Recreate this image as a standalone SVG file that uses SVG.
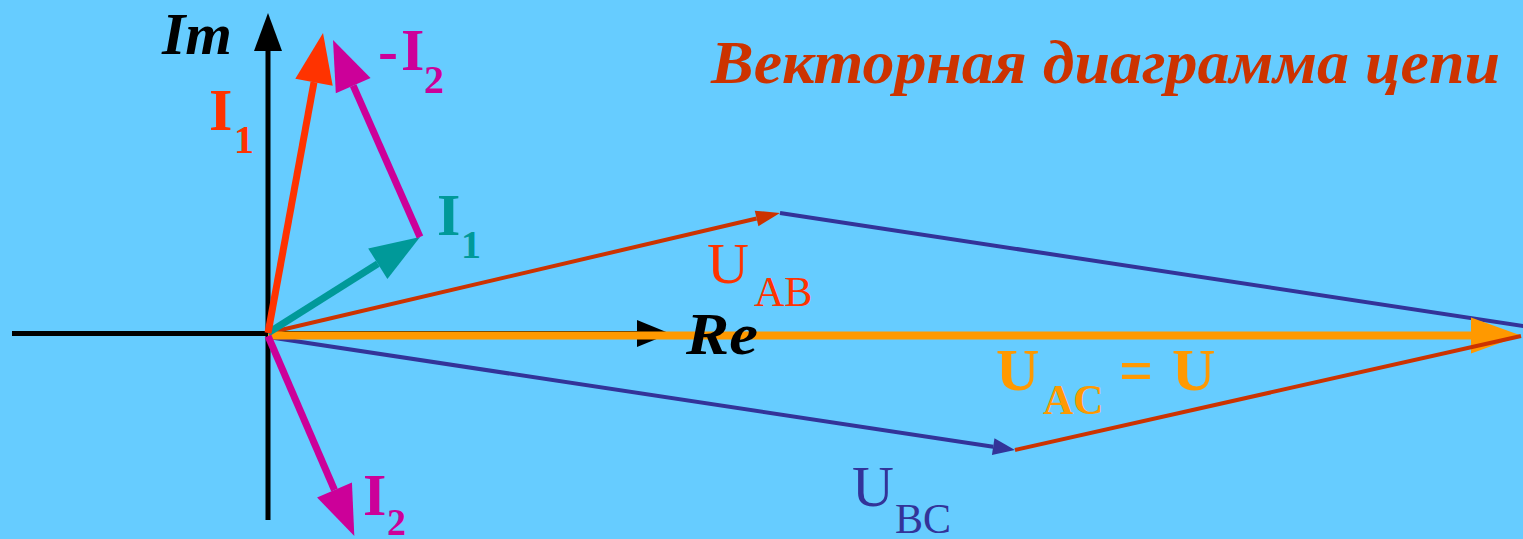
<svg xmlns="http://www.w3.org/2000/svg" width="1523" height="539" viewBox="0 0 1523 539">
<style>
.t{font-family:"Liberation Serif","Times New Roman",serif}
.b{font-weight:bold}
.i{font-style:italic}
.ln{fill:none;stroke-linecap:butt}
</style>
<defs>
<marker id="aBlkV" markerUnits="userSpaceOnUse" markerWidth="40" markerHeight="30" refX="0" refY="14" orient="auto" overflow="visible"><path d="M0,0 L38,14 L0,28 Z" fill="#000"/></marker>
<marker id="aBlkH" markerUnits="userSpaceOnUse" markerWidth="34" markerHeight="28" refX="0" refY="13.5" orient="auto" overflow="visible"><path d="M0,0 L33,13.5 L0,27 Z" fill="#000"/></marker>
<marker id="aRed" markerUnits="userSpaceOnUse" markerWidth="50" markerHeight="38" refX="0" refY="19" orient="auto" overflow="visible"><path d="M0,0 L50,19 L0,38 Z" fill="#FF3300"/></marker>
<marker id="aMag" markerUnits="userSpaceOnUse" markerWidth="50" markerHeight="38" refX="0" refY="19" orient="auto" overflow="visible"><path d="M0,0 L50,19 L0,38 Z" fill="#CC0099"/></marker>
<marker id="aTeal" markerUnits="userSpaceOnUse" markerWidth="50" markerHeight="36" refX="0" refY="18" orient="auto" overflow="visible"><path d="M0,0 L50,18 L0,36 Z" fill="#009999"/></marker>
<marker id="aOr" markerUnits="userSpaceOnUse" markerWidth="50" markerHeight="36" refX="0" refY="18" orient="auto" overflow="visible"><path d="M0,0 L50,18 L0,36 Z" fill="#FF9900"/></marker>
<marker id="aAB" markerUnits="userSpaceOnUse" markerWidth="24" markerHeight="16" refX="0" refY="8" orient="auto" overflow="visible"><path d="M0,0 L24,8 L0,16 Z" fill="#CC3300"/></marker>
<marker id="aBC" markerUnits="userSpaceOnUse" markerWidth="22" markerHeight="17" refX="0" refY="8.5" orient="auto" overflow="visible"><path d="M0,0 L22,8.5 L0,17 Z" fill="#333399"/></marker>
</defs>
<rect x="0" y="0" width="1523" height="539" fill="#66CCFF"/>
<g id="connectors">
  <g id="axes">
    <line class="ln" x1="268" y1="520" x2="268" y2="51" stroke="#000" stroke-width="5" marker-end="url(#aBlkV)"/>
    <line class="ln" x1="12" y1="333.5" x2="637" y2="333.5" stroke="#000" stroke-width="5" marker-end="url(#aBlkH)"/>
  </g>
  <line id="v-UBC" class="ln" x1="268" y1="337" x2="993.2" y2="446.7" stroke="#333399" stroke-width="4" marker-end="url(#aBC)"/>
  <line id="v-UBC-top" class="ln" x1="780" y1="213" x2="1530" y2="327" stroke="#333399" stroke-width="4"/>
  <line id="v-UAB" class="ln" x1="268" y1="333" x2="756.6" y2="218.5" stroke="#CC3300" stroke-width="4" marker-end="url(#aAB)"/>
  <line id="v-UAC" class="ln" x1="268" y1="335.5" x2="1471" y2="335.5" stroke="#FF9900" stroke-width="8" marker-end="url(#aOr)"/>
  <line id="v-UAB-low" class="ln" x1="1015" y1="450" x2="1521" y2="336" stroke="#CC3300" stroke-width="4"/>
  <line id="v-I1teal" class="ln" x1="268" y1="333" x2="377.8" y2="263.7" stroke="#009999" stroke-width="7" marker-end="url(#aTeal)"/>
  <line id="v-mI2" class="ln" x1="420" y1="237" x2="353.2" y2="85.7" stroke="#CC0099" stroke-width="7" marker-end="url(#aMag)"/>
  <line id="v-I2" class="ln" x1="268" y1="336" x2="334.5" y2="490" stroke="#CC0099" stroke-width="7" marker-end="url(#aMag)"/>
  <line id="v-I1" class="ln" x1="268" y1="333" x2="314" y2="82.2" stroke="#FF3300" stroke-width="7" marker-end="url(#aRed)"/>
</g>
<g id="title"><text class="t b i" x="711" y="83" font-size="62" fill="#CC3300" textLength="789" lengthAdjust="spacingAndGlyphs">Векторная диаграмма цепи</text></g>
<g id="lbl-Im"><text class="t b i" x="162" y="54" font-size="60" fill="#000">Im</text></g>
<g id="lbl-Re"><text class="t b i" x="686" y="354" font-size="60" fill="#000" textLength="72" lengthAdjust="spacingAndGlyphs">Re</text></g>
<g id="lbl-I1red" class="t b" fill="#FF3300"><text x="209" y="130" font-size="60">I</text><text x="234" y="153" font-size="40">1</text></g>
<g id="lbl-mI2" class="t b" fill="#CC0099"><text x="378" y="70" font-size="60">-</text><text x="401" y="70" font-size="60">I</text><text x="424" y="93" font-size="40">2</text></g>
<g id="lbl-I1teal" class="t b" fill="#009999"><text x="437" y="235" font-size="60">I</text><text x="461" y="258" font-size="40">1</text></g>
<g id="lbl-I2" class="t b" fill="#CC0099"><text x="363" y="515" font-size="60">I</text><text x="387" y="535" font-size="38">2</text></g>
<g id="lbl-UAB" class="t" fill="#FF3300"><text x="707" y="283" font-size="58">U</text><text x="754" y="306" font-size="42">AB</text></g>
<g id="lbl-UBC" class="t" fill="#333399"><text x="852" y="506" font-size="58">U</text><text x="895" y="533" font-size="42">BC</text></g>
<g id="lbl-UAC" class="t b" fill="#FF9900"><text x="996" y="390" font-size="60">U</text><text x="1043" y="414" font-size="42">AC</text><text x="1119" y="390" font-size="60">=</text><text x="1172" y="390" font-size="60">U</text></g>
</svg>
